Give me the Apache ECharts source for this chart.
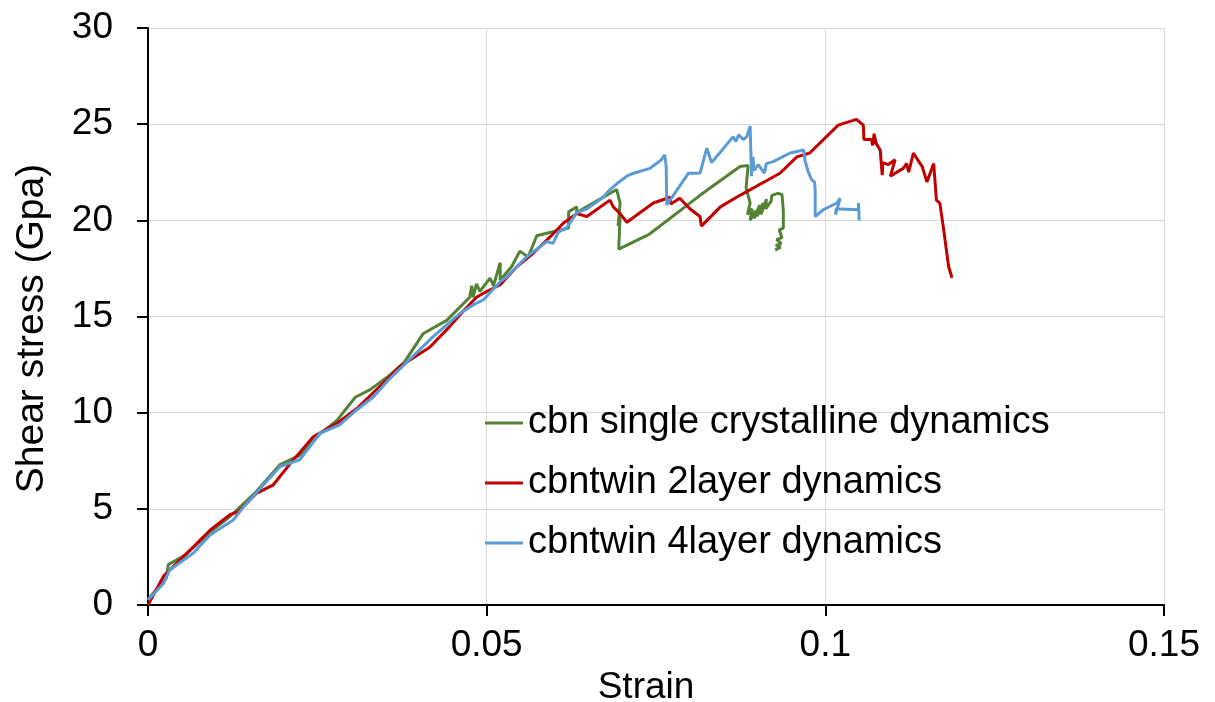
<!DOCTYPE html>
<html>
<head>
<meta charset="utf-8">
<script src="https://cdn.jsdelivr.net/npm/echarts@6/dist/echarts.min.js"></script>
<style>
html,body{margin:0;padding:0;background:#fff;}
#chart{width:1215px;height:702px;}
</style>
</head>
<body>
<div id="chart"></div>
<script>
var seriesNames = ['cbn single crystalline dynamics', 'cbntwin 2layer dynamics', 'cbntwin 4layer dynamics'];
var xTicks = [0, 0.05, 0.1, 0.15];
var yTicks = [0, 5, 10, 15, 20, 25, 30];

var greenData = [[0,0.3],[0.0027,1.4],[0.003,2.1],[0.0055,2.6],[0.0092,3.8],[0.0121,4.6],[0.016,5.9],[0.0195,7.3],[0.0225,7.8],[0.0254,8.9],[0.0279,9.6],[0.0306,10.8],[0.0328,11.2],[0.0355,11.9],[0.0378,12.6],[0.0406,14.1],[0.0441,14.8],[0.0475,16.0],[0.0478,16.6],[0.048,16.0],[0.0485,16.7],[0.049,16.3],[0.0505,17.0],[0.051,16.6],[0.052,17.8],[0.052,16.9],[0.0537,17.6],[0.0549,18.4],[0.0561,18.1],[0.0566,18.5],[0.0574,19.2],[0.0608,19.5],[0.0621,19.6],[0.0621,20.45],[0.0633,20.7],[0.0633,20.4],[0.0662,21.0],[0.0692,21.6],[0.0697,20.9],[0.0694,19.7],[0.0697,20.3],[0.0695,18.5],[0.0736,19.2],[0.0741,19.3],[0.0815,21.3],[0.0874,22.8],[0.0886,22.85],[0.0883,21.7],[0.0889,20.9],[0.0885,20.3],[0.0892,20.6],[0.0889,20.0],[0.0897,20.5],[0.0895,20.1],[0.0903,20.8],[0.0899,20.2],[0.0908,20.9],[0.0905,20.3],[0.0913,21.1],[0.0912,20.6],[0.092,21.0],[0.0921,21.3],[0.093,21.4],[0.0936,21.35],[0.0938,20.5],[0.0938,19.6],[0.0932,19.5],[0.0936,19.1],[0.0928,19.0],[0.0935,18.8],[0.0927,18.7],[0.0934,18.6],[0.0926,18.45]];

var redData = [[0,0],[0.0023,1.5],[0.0052,2.5],[0.0092,3.9],[0.0121,4.7],[0.0133,4.85],[0.016,5.8],[0.0185,6.25],[0.021,7.35],[0.0244,8.75],[0.0279,9.45],[0.0308,10.2],[0.0352,11.7],[0.0372,12.4],[0.0416,13.4],[0.0446,14.5],[0.0466,15.3],[0.0485,16.0],[0.05,16.3],[0.052,16.65],[0.0545,17.6],[0.0569,18.3],[0.0594,19.15],[0.0613,19.85],[0.0633,20.35],[0.0648,20.2],[0.0682,21.05],[0.0687,20.7],[0.0697,20.35],[0.0707,19.9],[0.0746,20.9],[0.0771,21.2],[0.0772,20.85],[0.0785,21.15],[0.08,20.6],[0.0815,20.2],[0.0817,19.7],[0.0845,20.7],[0.0874,21.3],[0.0923,22.25],[0.0933,22.45],[0.0958,23.3],[0.0977,23.5],[0.1019,24.95],[0.1046,25.25],[0.1056,24.95],[0.1057,24.2],[0.1068,24.2],[0.107,23.9],[0.1072,24.5],[0.1075,24.0],[0.1081,23.65],[0.1084,22.35],[0.1085,23.0],[0.1093,22.9],[0.1103,23.15],[0.1096,22.3],[0.1115,22.7],[0.112,22.95],[0.1123,22.5],[0.113,23.5],[0.114,22.95],[0.1143,22.8],[0.115,22.0],[0.116,22.95],[0.1164,21.05],[0.1169,20.9],[0.1174,19.7],[0.1182,17.6],[0.1187,17.0]];

var blueData = [[0,0.26],[0.0023,1.13],[0.0032,1.82],[0.0067,2.7],[0.0092,3.65],[0.0126,4.42],[0.0141,5.1],[0.0195,7.2],[0.0224,7.55],[0.0254,8.93],[0.0283,9.36],[0.0308,10.14],[0.0333,10.83],[0.0355,11.7],[0.0421,13.95],[0.0461,15.17],[0.048,15.6],[0.0495,15.86],[0.052,16.81],[0.053,17.07],[0.0559,18.1],[0.0589,18.9],[0.0598,18.8],[0.0606,19.4],[0.0618,19.6],[0.0633,20.4],[0.0648,20.6],[0.0672,21.2],[0.0682,21.6],[0.0692,21.9],[0.0707,22.3],[0.0717,22.45],[0.0741,22.7],[0.0758,23.15],[0.0763,23.4],[0.0765,22.8],[0.0766,20.8],[0.0798,22.45],[0.0815,22.45],[0.0825,23.75],[0.0832,23.0],[0.0864,24.35],[0.0868,24.1],[0.0872,24.45],[0.0879,24.2],[0.0884,24.35],[0.0889,24.9],[0.0891,22.3],[0.0893,23.3],[0.0895,22.6],[0.0901,22.9],[0.091,22.45],[0.0913,22.95],[0.0923,23.05],[0.0948,23.5],[0.0968,23.66],[0.097,23.1],[0.0975,22.5],[0.098,22.1],[0.0984,22.0],[0.0985,21.6],[0.0985,20.2],[0.0997,20.55],[0.1017,20.9],[0.1022,21.15],[0.1015,20.3],[0.1016,20.6],[0.1049,20.55],[0.1049,20.9],[0.105,20.0]];

var colors = ['#548235', '#c00000', '#5b9bd5'];
var FONT = 'Liberation Sans, Arial, sans-serif';

var chart = echarts.init(document.getElementById('chart'), null, {renderer: 'canvas'});
var option = {
  backgroundColor: '#ffffff',
  animation: false,
  grid: {left: 148, right: 51, top: 28, bottom: 97, containLabel: false, outerBoundsMode: 'none'},
  legend: {
    orient: 'vertical',
    left: 485,
    top: 404,
    padding: 0,
    icon: 'rect',
    itemWidth: 38,
    itemHeight: 3,
    itemGap: 22,
    data: seriesNames,
    textStyle: {fontFamily: FONT, fontSize: 38, color: '#000', lineHeight: 38}
  },
  xAxis: {
    type: 'value',
    min: xTicks[0],
    max: xTicks[xTicks.length - 1],
    interval: 0.05,
    name: 'Strain',
    nameLocation: 'middle',
    nameGap: 62,
    nameTextStyle: {fontFamily: FONT, fontSize: 37, color: '#000', padding: [0, 20, 0, 0]},
    axisLine: {show: true, onZero: false, lineStyle: {color: '#000', width: 2}},
    axisTick: {show: true, inside: false, length: 11, lineStyle: {color: '#000', width: 2}},
    axisLabel: {fontFamily: FONT, fontSize: 37, color: '#000', margin: 22,
      formatter: function (v) { return String(+v.toFixed(4)); }},
    splitLine: {show: true, lineStyle: {color: '#d9d9d9', width: 1}}
  },
  yAxis: {
    type: 'value',
    min: yTicks[0],
    max: yTicks[yTicks.length - 1],
    interval: 5,
    name: 'Shear stress (Gpa)',
    nameLocation: 'middle',
    nameGap: 96,
    nameTextStyle: {fontFamily: FONT, fontSize: 39, color: '#000', padding: [0, 24, 0, 0]},
    axisLine: {show: true, onZero: false, lineStyle: {color: '#000', width: 2}},
    axisTick: {show: true, inside: false, length: 11, lineStyle: {color: '#000', width: 2}},
    axisLabel: {fontFamily: FONT, fontSize: 37, color: '#000', margin: 35},
    splitLine: {show: true, lineStyle: {color: '#d9d9d9', width: 1}}
  },
  series: [
    {name: seriesNames[0], type: 'line', data: greenData, symbol: 'none', lineStyle: {color: colors[0], width: 3}, itemStyle: {color: colors[0]}},
    {name: seriesNames[1], type: 'line', data: redData, symbol: 'none', lineStyle: {color: colors[1], width: 3}, itemStyle: {color: colors[1]}},
    {name: seriesNames[2], type: 'line', data: blueData, symbol: 'none', lineStyle: {color: colors[2], width: 3}, itemStyle: {color: colors[2]}}
  ]
};
chart.setOption(option);
</script>
</body>
</html>
